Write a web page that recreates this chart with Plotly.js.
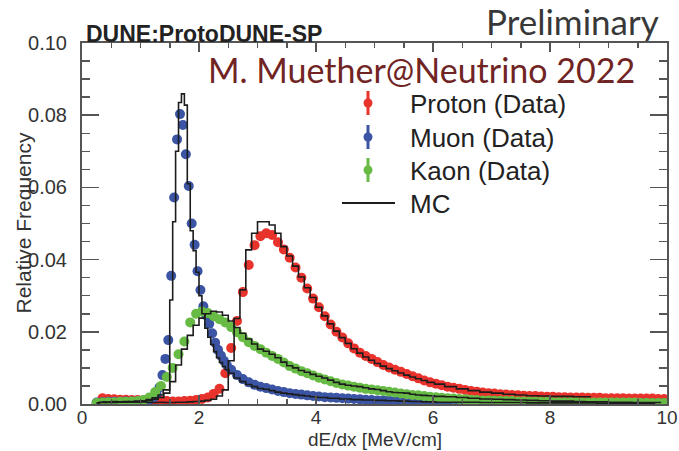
<!DOCTYPE html>
<html><head><meta charset="utf-8">
<script src="https://cdn.plot.ly/plotly-3.0.1.min.js"></script>
<style>html,body{margin:0;padding:0;background:#fff;}#chart{width:679px;height:451px;}</style>
</head><body><div id="chart"></div>
<script>
// ---------- data ----------
const protonX = [0.35,0.45,0.55,0.65,0.75,0.85,0.95,1.05,1.15,1.25,1.35,1.45,1.55,1.65,1.75,1.85,1.95,2.05,2.15,2.25,2.35,2.45,2.55,2.65,2.75,2.85,2.95,3.05,3.15,3.25,3.35,3.45,3.55,3.65,3.75,3.85,3.95,4.05,4.15,4.25,4.35,4.45,4.55,4.65,4.75,4.85,4.95,5.05,5.15,5.25,5.35,5.45,5.55,5.65,5.75,5.85,5.95,6.05,6.15,6.25,6.35,6.45,6.55,6.65,6.75,6.85,6.95,7.05,7.15,7.25,7.35,7.45,7.55,7.65,7.75,7.85,7.95,8.05,8.15,8.25,8.35,8.45,8.55,8.65,8.75,8.85,8.95,9.05,9.15,9.25,9.35,9.45,9.55,9.65,9.75,9.85,9.95];
const protonY = [0.0016,0.0014,0.0013,0.0012,0.0012,0.0011,0.0011,0.0010,0.0010,0.0009,0.0009,0.0008,0.0007,0.0007,0.0008,0.0009,0.0011,0.0014,0.0018,0.0028,0.0042,0.0085,0.0155,0.0230,0.0310,0.0385,0.0440,0.0465,0.0473,0.0468,0.0448,0.0428,0.0405,0.0378,0.0350,0.0320,0.0292,0.0268,0.0243,0.0220,0.0200,0.0184,0.0168,0.0154,0.0142,0.0133,0.0125,0.0116,0.0108,0.0101,0.0095,0.0089,0.0083,0.0077,0.0071,0.0065,0.0060,0.0056,0.0052,0.0048,0.0045,0.0042,0.0039,0.0036,0.0034,0.0032,0.0030,0.0029,0.0027,0.0026,0.0025,0.0024,0.0023,0.0022,0.0022,0.0021,0.0020,0.0020,0.0019,0.0019,0.0018,0.0018,0.0018,0.0017,0.0017,0.0017,0.0016,0.0016,0.0016,0.0016,0.0015,0.0015,0.0015,0.0015,0.0015,0.0014,0.0014];

const muonX = [0.25,0.35,0.45,0.55,0.65,0.75,0.85,0.95,1.05,1.15,1.225,1.275,1.325,1.375,1.425,1.475,1.525,1.575,1.625,1.675,1.725,1.775,1.825,1.875,1.925,1.975,2.025,2.075,2.125,2.175,2.225,2.275,2.325,2.375,2.425,2.475,2.55,2.65,2.75,2.85,2.95,3.05,3.15,3.25,3.35,3.45,3.55,3.65,3.75,3.85,3.95,4.05,4.15,4.25,4.35,4.45,4.55,4.65,4.75,4.85,4.95,5.05,5.15,5.25,5.35,5.45,5.55,5.65,5.75,5.85,5.95,6.05,6.15,6.25,6.35,6.45,6.55,6.65,6.75,6.85,6.95,7.05,7.15,7.25,7.35,7.45,7.55,7.65,7.75,7.85,7.95,8.05,8.15,8.25,8.35,8.45,8.55,8.65,8.75,8.85,8.95,9.05,9.15,9.25,9.35,9.45,9.55,9.65,9.75,9.85,9.95];
const muonY = [0.0004,0.0005,0.0006,0.0006,0.0006,0.0007,0.0007,0.0008,0.0009,0.0012,0.0018,0.0028,0.0046,0.0080,0.0125,0.0177,0.0355,0.0572,0.0733,0.0803,0.0773,0.0692,0.0604,0.0500,0.0441,0.0368,0.0316,0.0271,0.0245,0.0222,0.0196,0.0170,0.0150,0.0134,0.0120,0.0108,0.0095,0.0080,0.0069,0.0060,0.0053,0.0048,0.0044,0.0040,0.0036,0.0033,0.0030,0.0028,0.0026,0.0024,0.0022,0.0021,0.0019,0.0018,0.0017,0.0016,0.0015,0.0014,0.0013,0.0012,0.0011,0.0010,0.0010,0.0009,0.0008,0.0008,0.0007,0.0007,0.0006,0.0006,0.0005,0.0005,0.0005,0.0004,0.0004,0.0004,0.0004,0.0004,0.0003,0.0003,0.0003,0.0003,0.0003,0.0003,0.0003,0.0003,0.0003,0.0003,0.0003,0.0003,0.0003,0.0002,0.0002,0.0002,0.0002,0.0002,0.0002,0.0002,0.0002,0.0002,0.0002,0.0002,0.0002,0.0002,0.0002,0.0002,0.0002,0.0002,0.0002,0.0002,0.0002];

const kaonX = [0.25,0.35,0.45,0.55,0.65,0.75,0.85,0.95,1.05,1.15,1.25,1.35,1.45,1.55,1.65,1.75,1.85,1.95,2.05,2.15,2.25,2.35,2.45,2.55,2.65,2.75,2.85,2.95,3.05,3.15,3.25,3.35,3.45,3.55,3.65,3.75,3.85,3.95,4.05,4.15,4.25,4.35,4.45,4.55,4.65,4.75,4.85,4.95,5.05,5.15,5.25,5.35,5.45,5.55,5.65,5.75,5.85,5.95,6.05,6.15,6.25,6.35,6.45,6.55,6.65,6.75,6.85,6.95,7.05,7.15,7.25,7.35,7.45,7.55,7.65,7.75,7.85,7.95,8.05,8.15,8.25,8.35,8.45,8.55,8.65,8.75,8.85,8.95,9.05,9.15,9.25,9.35,9.45,9.55,9.65,9.75,9.85,9.95];
const kaonY = [0.0003,0.0004,0.0005,0.0005,0.0006,0.0006,0.0007,0.0008,0.0011,0.0018,0.0033,0.0050,0.0075,0.0100,0.0138,0.0173,0.0226,0.0250,0.0256,0.0252,0.0243,0.0235,0.0226,0.0213,0.0199,0.0185,0.0171,0.0161,0.0152,0.0142,0.0133,0.0125,0.0115,0.0105,0.0098,0.0091,0.0085,0.0079,0.0073,0.0068,0.0063,0.0058,0.0054,0.0051,0.0048,0.0045,0.0042,0.0040,0.0038,0.0036,0.0034,0.0032,0.0029,0.0027,0.0025,0.0024,0.0022,0.0020,0.0019,0.0017,0.0016,0.0015,0.0014,0.0013,0.0012,0.0011,0.0010,0.0010,0.0009,0.0009,0.0008,0.0008,0.0007,0.0007,0.0007,0.0006,0.0006,0.0006,0.0005,0.0005,0.0005,0.0005,0.0005,0.0004,0.0004,0.0004,0.0004,0.0004,0.0004,0.0004,0.0004,0.0004,0.0004,0.0003,0.0003,0.0003,0.0003,0.0003];

const protonMCx = [0.35,0.45,0.55,0.65,0.75,0.85,0.95,1.05,1.15,1.25,1.35,1.45,1.55,1.65,1.75,1.85,1.95,2.05,2.15,2.25,2.35,2.45,2.55,2.65,2.75,2.85,2.95,3.05,3.15,3.25,3.35,3.45,3.55,3.65,3.75,3.85,3.95,4.05,4.15,4.25,4.35,4.45,4.55,4.65,4.75,4.85,4.95,5.05,5.15,5.25,5.35,5.45,5.55,5.65,5.75,5.85,5.95,6.1,6.3,6.5,6.7,6.9,7.1,7.3,7.5,7.7,7.9,8.1,8.3,8.5,8.7];
const protonMCy = [0.0006,0.0005,0.0007,0.0006,0.0005,0.0006,0.0005,0.0006,0.0005,0.0004,0.0005,0.0004,0.0004,0.0005,0.0005,0.0006,0.0007,0.0008,0.0010,0.0013,0.0022,0.0039,0.0120,0.0237,0.0316,0.0427,0.0473,0.0505,0.0505,0.0496,0.0473,0.0436,0.0410,0.0382,0.0352,0.0322,0.0295,0.0268,0.0244,0.0222,0.0202,0.0184,0.0168,0.0153,0.0141,0.0130,0.0121,0.0112,0.0105,0.0098,0.0092,0.0086,0.0080,0.0075,0.0070,0.0065,0.0060,0.0055,0.0048,0.0042,0.0037,0.0033,0.0030,0.0027,0.0025,0.0023,0.0022,0.0021,0.0021,0.0020,0.0020];

const muonMCx = [0.25,0.35,0.45,0.55,0.65,0.75,0.85,0.95,1.05,1.15,1.25,1.35,1.425,1.475,1.525,1.575,1.625,1.675,1.725,1.775,1.825,1.875,1.925,1.975,2.025,2.075,2.125,2.175,2.225,2.275,2.325,2.375,2.425,2.475,2.55,2.65,2.75,2.85,2.95,3.05,3.15,3.25,3.35,3.45,3.55,3.65,3.75,3.85,3.95,4.1,4.3,4.5,4.7,4.9,5.1,5.3,5.5,5.7,5.9,6.2,6.6,7.0,7.4,7.8,8.2,8.6,9.0,9.4,9.8];
const muonMCy = [0.0003,0.0004,0.0005,0.0004,0.0006,0.0005,0.0007,0.0006,0.0008,0.0012,0.0017,0.0025,0.0039,0.0039,0.0288,0.0505,0.0700,0.0835,0.0859,0.0828,0.0610,0.0480,0.0425,0.0365,0.0300,0.0250,0.0210,0.0185,0.0165,0.0145,0.0128,0.0115,0.0104,0.0095,0.0085,0.0072,0.0062,0.0054,0.0048,0.0043,0.0041,0.0037,0.0033,0.0030,0.0028,0.0026,0.0024,0.0022,0.0020,0.0018,0.0016,0.0014,0.0012,0.0011,0.0010,0.0009,0.0008,0.0007,0.0006,0.0005,0.0005,0.0004,0.0004,0.0003,0.0003,0.0003,0.0002,0.0002,0.0002];

const kaonMCx = [0.25,0.35,0.45,0.55,0.65,0.75,0.85,0.95,1.05,1.15,1.25,1.35,1.45,1.55,1.65,1.75,1.85,1.95,2.05,2.15,2.25,2.35,2.45,2.55,2.65,2.75,2.85,2.95,3.05,3.15,3.25,3.35,3.45,3.55,3.65,3.75,3.85,3.95,4.05,4.15,4.25,4.35,4.45,4.55,4.65,4.75,4.85,4.95,5.05,5.15,5.25,5.35,5.45,5.55,5.65,5.75,5.85,5.95,6.1,6.3,6.5,6.7,6.9,7.1,7.3,7.5,7.7,7.9,8.1,8.3,8.5,8.7,8.9,9.1,9.3,9.5,9.7,9.9];
const kaonMCy = [0.0003,0.0005,0.0004,0.0006,0.0005,0.0007,0.0006,0.0008,0.0008,0.0010,0.0013,0.0018,0.0030,0.0062,0.0108,0.0152,0.0190,0.0218,0.0238,0.0250,0.0257,0.0255,0.0246,0.0230,0.0212,0.0196,0.0180,0.0166,0.0152,0.0146,0.0138,0.0128,0.0116,0.0106,0.0100,0.0093,0.0088,0.0082,0.0077,0.0072,0.0066,0.0060,0.0055,0.0052,0.0050,0.0048,0.0045,0.0042,0.0040,0.0037,0.0034,0.0032,0.0031,0.0030,0.0027,0.0025,0.0024,0.0023,0.0021,0.0020,0.0018,0.0016,0.0014,0.0013,0.0012,0.0011,0.0010,0.0009,0.0008,0.0008,0.0007,0.0006,0.0006,0.0005,0.0005,0.0004,0.0004,0.0004];

const legendLabels = ['Proton (Data)', 'Muon (Data)', 'Kaon (Data)', 'MC'];
const xTickLabels = ['0', '2', '4', '6', '8', '10'];

// ---------- styling ----------
const COLORS = {proton: '#e8322c', muon: '#3b54a4', kaon: '#67bb45', mc: '#1c1c1c'};
const W = 679, H = 451, ML = 82, MR = 12, MT = 43, MB = 47;
const PW = W - ML - MR, PH = H - MT - MB;
const fx = p => (p - ML) / PW;            // pixel x -> paper
const fy = p => (H - MB - p) / PH;        // pixel y -> paper
const SANS = 'Liberation Sans, Arial, Helvetica, sans-serif';

function dataTrace(x, y, color, name) {
  return {type: 'scatter', mode: 'markers', x: x, y: y, name: name, showlegend: false,
          marker: {size: 10, color: color, line: {width: 0}}, hoverinfo: 'skip'};
}
function mcTrace(x, y) {
  return {type: 'scatter', mode: 'lines', x: x, y: y, name: 'MC', showlegend: false,
          line: {shape: 'hvh', color: COLORS.mc, width: 1.6}, hoverinfo: 'skip'};
}

const traces = [
  dataTrace(protonX, protonY, COLORS.proton, legendLabels[0]),
  dataTrace(muonX, muonY, COLORS.muon, legendLabels[1]),
  dataTrace(kaonX, kaonY, COLORS.kaon, legendLabels[2]),
  mcTrace(protonMCx, protonMCy),
  mcTrace(muonMCx, muonMCy),
  mcTrace(kaonMCx, kaonMCy)
];

// custom legend (text + symbols)
const legRows = [103, 137, 170, 203];
const legSymX = 368, legTextX = 408;
const legColors = [COLORS.proton, COLORS.muon, COLORS.kaon];
const shapes = [];
legColors.forEach((c, i) => {
  const yc = legRows[i];
  shapes.push({type: 'line', xref: 'paper', yref: 'paper', x0: fx(legSymX), x1: fx(legSymX),
               y0: fy(yc + 12), y1: fy(yc - 12), line: {color: c, width: 3}});
  shapes.push({type: 'circle', xref: 'paper', yref: 'paper', x0: fx(legSymX - 4.5), x1: fx(legSymX + 4.5),
               y0: fy(yc + 4.5), y1: fy(yc - 4.5), fillcolor: c, line: {width: 0}});
});
shapes.push({type: 'line', xref: 'paper', yref: 'paper', x0: fx(342), x1: fx(395),
             y0: fy(legRows[3]), y1: fy(legRows[3]), line: {color: COLORS.mc, width: 2.2}});

const annotations = legendLabels.map((t, i) => ({
  text: t, xref: 'paper', yref: 'paper', x: fx(legTextX), y: fy(legRows[i] + 1), xanchor: 'left', yanchor: 'middle',
  showarrow: false, font: {family: SANS, size: 26, color: '#222'}
}));
annotations.push(
  {text: 'DUNE:ProtoDUNE-SP', xref: 'paper', yref: 'paper', x: fx(84), y: fy(34), xanchor: 'left', yanchor: 'middle',
   showarrow: false, font: {family: SANS, size: 23, color: '#222', weight: 'bold'}},
  {text: 'Preliminary', xref: 'paper', yref: 'paper', x: fx(661), y: fy(21), xanchor: 'right', yanchor: 'middle',
   showarrow: false, font: {family: 'Lato, Open Sans, sans-serif', size: 35, color: '#383838'}},
  {text: 'M. Muether@Neutrino 2022', xref: 'paper', yref: 'paper', x: fx(206), y: fy(69), xanchor: 'left', yanchor: 'middle',
   showarrow: false, font: {family: 'Lato, Open Sans, sans-serif', size: 34, color: '#712424'}},
  {text: 'dE/dx [MeV/cm]', xref: 'paper', yref: 'paper', x: 0.5, y: fy(439), xanchor: 'center', yanchor: 'middle',
   showarrow: false, font: {family: SANS, size: 19, color: '#333'}},
  {text: 'Relative Frequency', xref: 'paper', yref: 'paper', x: fx(23), y: 0.5, xanchor: 'center', yanchor: 'middle',
   textangle: -90, showarrow: false, font: {family: SANS, size: 21, color: '#333'}}
);

const axisCommon = {
  showline: true, linecolor: '#555', linewidth: 2, mirror: 'ticks', ticks: 'inside', tickcolor: '#555', tickwidth: 1.5,
  showgrid: false, zeroline: false, fixedrange: true,
  tickfont: {family: SANS, size: 20, color: '#333'}
};

const layout = {
  width: W, height: H,
  margin: {l: ML, r: MR, t: MT, b: MB, pad: 0},
  paper_bgcolor: '#fff', plot_bgcolor: '#fff',
  showlegend: false,
  xaxis: Object.assign({}, axisCommon, {
    range: [0, 10], tickmode: 'array', tickvals: [0, 2, 4, 6, 8, 10], ticktext: xTickLabels, ticklen: 9,
    ticklabelstandoff: -5, tickfont: {family: SANS, size: 19, color: '#333'},
    minor: {dtick: 0.5, tick0: 0, ticks: 'inside', ticklen: 5, tickwidth: 1.5, tickcolor: '#555', showgrid: false}
  }),
  yaxis: Object.assign({}, axisCommon, {
    range: [0, 0.1], dtick: 0.02, tick0: 0, tickformat: '.2f', ticklen: 17, ticklabelstandoff: 9,
    minor: {dtick: 0.005, tick0: 0, ticks: 'inside', ticklen: 8, tickwidth: 1.5, tickcolor: '#555', showgrid: false}
  }),
  shapes: shapes,
  annotations: annotations
};

Plotly.newPlot('chart', traces, layout, {staticPlot: true, displayModeBar: false});
</script>
</body></html>
